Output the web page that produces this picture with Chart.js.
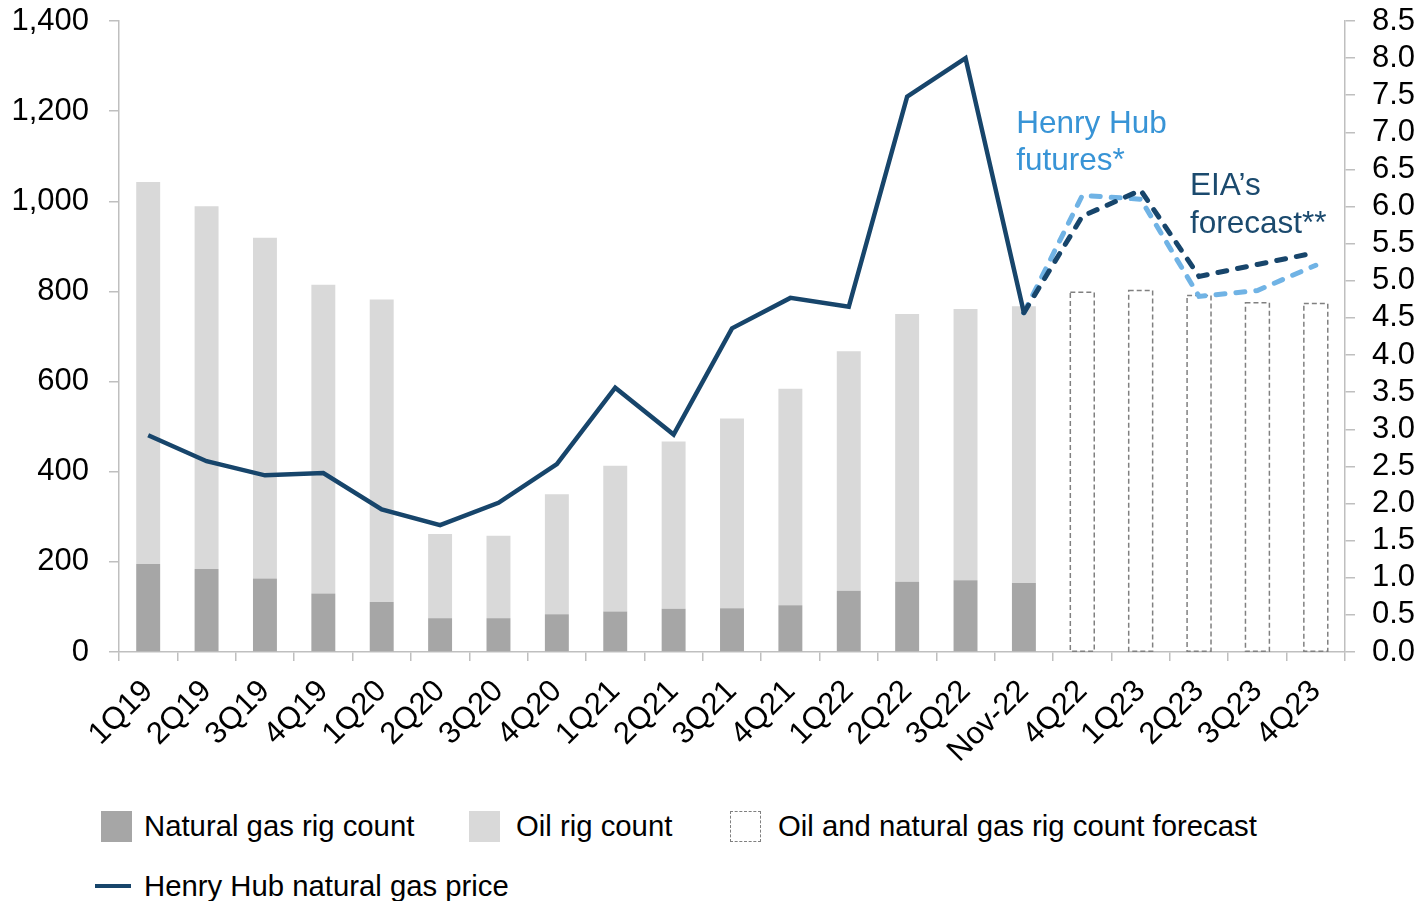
<!DOCTYPE html>
<html>
<head>
<meta charset="utf-8">
<script src="https://cdn.jsdelivr.net/npm/chart.js@4.4.0/dist/chart.umd.min.js"></script>
<style>
  body { margin: 0; background: #fff; font-family: 'Liberation Sans', Arial, sans-serif; }
  #wrap { position: relative; width: 1422px; height: 901px; overflow: hidden; }
  #myChart { position: absolute; left: 0; top: 0; }
  .lg { position: absolute; font-size: 29.3px; color: #000; line-height: 32px; white-space: nowrap; }
  .sw { position: absolute; width: 31px; height: 31px; box-sizing: border-box; }
</style>
</head>
<body>
<div id="wrap">
  <canvas id="myChart" width="1422" height="790"></canvas>
  <div class="sw" style="left:101px;top:811px;background:#a6a6a6"></div>
  <div class="lg" style="left:144px;top:810px">Natural gas rig count</div>
  <div class="sw" style="left:469px;top:811px;background:#d9d9d9"></div>
  <div class="lg" style="left:516px;top:810px">Oil rig count</div>
  <div class="sw" style="left:730px;top:811px;border:1.5px dashed #808080"></div>
  <div class="lg" style="left:778px;top:810px">Oil and natural gas rig count forecast</div>
  <div style="position:absolute;left:95px;top:884px;width:36px;height:4px;background:#17456b"></div>
  <div class="lg" style="left:144px;top:870px">Henry Hub natural gas price</div>
</div>
<script>
const labels = ['1Q19','2Q19','3Q19','4Q19','1Q20','2Q20','3Q20','4Q20','1Q21','2Q21','3Q21','4Q21',
  '1Q22','2Q22','3Q22','Nov-22','4Q22','1Q23','2Q23','3Q23','4Q23'];

// rig counts (left axis)
const gasRigs = [195, 184, 163, 130, 111, 75, 75, 84, 90, 96, 97, 104, 136, 156, 159, 153, null, null, null, null, null];
const oilRigs = [848, 805, 756, 685, 671, 187, 183, 266, 323, 371, 421, 480, 531, 594, 602, 614, null, null, null, null, null];
const forecastRigs = [null, null, null, null, null, null, null, null, null, null, null, null, null, null, null, null, 798, 802, 791, 775, 773];

// Henry Hub price, $/MMBtu (right axis)
const hhPrice = [2.92, 2.57, 2.38, 2.41, 1.92, 1.71, 2.01, 2.53, 3.56, 2.93, 4.36, 4.77, 4.65, 7.48, 8.0, 4.57, null, null, null, null, null];
const hhFutures = [null, null, null, null, null, null, null, null, null, null, null, null, null, null, null, 4.57, 6.15, 6.10, 4.79, 4.87, 5.21];
const eiaForecast = [null, null, null, null, null, null, null, null, null, null, null, null, null, null, null, 4.57, 5.87, 6.22, 5.06, 5.22, 5.38];

const FONT = "'Liberation Sans', Arial, sans-serif";
const axisGrey = '#bfbfbf';

// dashed outline for the forecast bars (Chart.js bars can't dash their border)
const dashedBars = {
  id: 'dashedBars',
  beforeDatasetsDraw(chart) {
    const idx = chart.data.datasets.findIndex(d => d.label === 'Oil and natural gas rig count forecast');
    const meta = chart.getDatasetMeta(idx);
    const ctx = chart.ctx;
    ctx.save();
    ctx.strokeStyle = '#808080';
    ctx.lineWidth = 1.5;
    ctx.setLineDash([5, 3]);
    meta.data.forEach((bar, i) => {
      if (forecastRigs[i] == null) return;
      const p = bar.getProps(['x', 'y', 'base', 'width'], true);
      ctx.strokeRect(p.x - p.width / 2, p.y, p.width, p.base - p.y);
    });
    ctx.restore();
  }
};

// text annotations next to the forecast lines
const notes = {
  id: 'notes',
  afterDatasetsDraw(chart) {
    const ctx = chart.ctx;
    const x = chart.scales.x, y2 = chart.scales.y2;
    ctx.save();
    ctx.font = '31.5px ' + FONT;
    ctx.textBaseline = 'middle';
    ctx.textAlign = 'left';
    ctx.fillStyle = '#3894d6';
    ctx.fillText('Henry Hub', x.getPixelForValue(16) - 66, y2.getPixelForValue(7.11));
    ctx.fillText('futures*', x.getPixelForValue(16) - 66, y2.getPixelForValue(6.61));
    ctx.fillStyle = '#1b4a6e';
    ctx.fillText('EIA\u2019s', x.getPixelForValue(18) - 9, y2.getPixelForValue(6.27));
    ctx.fillText('forecast**', x.getPixelForValue(18) - 9, y2.getPixelForValue(5.76));
    ctx.restore();
  }
};

const data = {
  labels,
  datasets: [{
    type: 'line', label: 'Henry Hub natural gas price', data: hhPrice, yAxisID: 'y2',
    borderColor: '#17456b', borderWidth: 4.5, pointRadius: 0, order: 0
  }, {
    type: 'line', label: 'Henry Hub futures', data: hhFutures, yAxisID: 'y2',
    borderColor: '#70b3e5', borderWidth: 5, borderDash: [9, 11], borderCapStyle: 'round',
    pointRadius: 0, order: 1
  }, {
    type: 'line', label: "EIA's forecast", data: eiaForecast, yAxisID: 'y2',
    borderColor: '#17456b', borderWidth: 5, borderDash: [9, 11], borderCapStyle: 'round',
    pointRadius: 0, order: 0
  }, {
    label: 'Natural gas rig count', data: gasRigs, backgroundColor: '#a6a6a6', order: 2
  }, {
    label: 'Oil rig count', data: oilRigs, backgroundColor: '#d9d9d9', order: 2
  }, {
    label: 'Oil and natural gas rig count forecast', data: forecastRigs, backgroundColor: 'transparent', order: 2
  }]
};

const tickFont = { family: FONT, size: 31 };

const config = {
  type: 'bar',
  data,
  plugins: [dashedBars, notes],
  options: {
    responsive: false,
    animation: false,
    devicePixelRatio: 1,
    layout: { padding: { top: 21, left: 0, right: 0, bottom: 0 } },
    datasets: { bar: { barPercentage: 0.41, categoryPercentage: 1 } },
    plugins: { legend: { display: false }, tooltip: { enabled: false } },
    scales: {
      x: {
        stacked: true,
        grid: { drawOnChartArea: false, color: axisGrey, lineWidth: 1.5, tickLength: 9 },
        border: { color: axisGrey, width: 1.5 },
        ticks: { font: tickFont, color: '#000', maxRotation: 45, minRotation: 45, autoSkip: false, padding: 12 },
        afterFit(s) { s.height = 138; }
      },
      y: {
        stacked: true, min: 0, max: 1400,
        grid: { drawOnChartArea: false, color: axisGrey, lineWidth: 1.5, tickLength: 10 },
        border: { color: axisGrey, width: 1.5 },
        ticks: { stepSize: 200, font: tickFont, color: '#000', padding: 20,
          callback: v => v.toLocaleString('en-US') },
        afterFit(s) { s.width = 119; s.paddingTop = 0; s.paddingBottom = 0; }
      },
      y2: {
        position: 'right', min: 0, max: 8.5,
        grid: { drawOnChartArea: false, color: axisGrey, lineWidth: 1.5, tickLength: 10 },
        border: { color: axisGrey, width: 1.5 },
        ticks: { stepSize: 0.5, autoSkip: false, font: tickFont, color: '#000', padding: 17,
          callback: v => v.toFixed(1) },
        afterFit(s) { s.width = 77; s.paddingTop = 0; s.paddingBottom = 0; }
      }
    }
  }
};

const myChart = new Chart(document.getElementById('myChart'), config);
</script>
</body>
</html>
